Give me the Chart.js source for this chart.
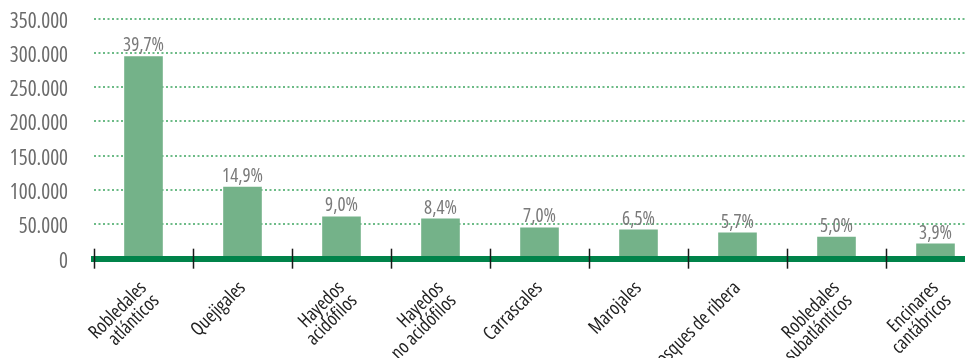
<!DOCTYPE html>
<html>
<head>
<meta charset="utf-8">
<script src="https://cdn.jsdelivr.net/npm/chart.js@4/dist/chart.umd.min.js"></script>
<style>
  html, body { margin: 0; padding: 0; background: #fff; overflow: hidden; }
  #wrap { position: relative; top: -20px; width: 985px; height: 420px; }
</style>
</head>
<body>
<div id="wrap"><canvas id="chart"></canvas></div>
<script>
const categories = [
  ['Robledales', 'atlánticos'],
  'Quejigales',
  ['Hayedos', 'acidófilos'],
  ['Hayedos', 'no acidófilos'],
  'Carrascales',
  'Marojales',
  'Bosques de ribera',
  ['Robledales', 'subatlánticos'],
  ['Encinares', 'cantábricos']
];
const hectares = [295000, 105000, 61500, 58500, 45500, 42500, 38000, 32000, 22000];
const shares = ['39,7%', '14,9%', '9,0%', '8,4%', '7,0%', '6,5%', '5,7%', '5,0%', '3,9%'];

const family = "'Open Sans', 'Roboto', sans-serif";
const barGreen = '#74b289';
const axisGreen = '#00834a';
const gridGreen = '#6dbb87';

// thousands with a dot, as in 350.000
const fmt = v => v === 0 ? '0' : v.toLocaleString('de-DE');

// percentage above each bar + black ticks crossing the thick base line
const extras = {
  id: 'extras',
  afterDraw(chart) {
    const { ctx } = chart;
    const x = chart.scales.x;
    const y0 = chart.scales.y.getPixelForValue(0);
    ctx.save();
    const step = x.getPixelForValue(1) - x.getPixelForValue(0);
    ctx.strokeStyle = '#1a1a1a';
    ctx.lineWidth = 1.5;
    for (let i = 0; i < categories.length; i++) {
      const px = Math.round(x.getPixelForValue(i) - step / 2) + 0.5;
      ctx.beginPath();
      ctx.moveTo(px, y0 - 10);
      ctx.lineTo(px, y0 + 10);
      ctx.stroke();
    }
    ctx.fillStyle = '#7a7a7a';
    ctx.font = 'normal condensed 19px ' + family;
    ctx.textAlign = 'center';
    ctx.textBaseline = 'alphabetic';
    chart.getDatasetMeta(0).data.forEach((bar, i) => {
      ctx.fillText(shares[i], bar.x, bar.y - 5);
    });
    ctx.restore();
  }
};

new Chart(document.getElementById('chart'), {
  type: 'bar',
  data: {
    labels: categories,
    datasets: [{
      data: hectares,
      backgroundColor: barGreen,
      borderWidth: 0,
      barPercentage: 0.78,
      categoryPercentage: 0.5
    }]
  },
  options: {
    responsive: true,
    maintainAspectRatio: false,
    animation: false,
    layout: { padding: { top: 10, right: 0, left: 0, bottom: 0 } },
    plugins: { legend: { display: false }, tooltip: { enabled: false } },
    scales: {
      x: {
        grid: { display: false },
        border: { color: axisGreen, width: 6, z: 1 },
        ticks: {
          color: '#222',
          font: { family, size: 19, weight: 'condensed', lineHeight: 0.95 },
          minRotation: 45,
          maxRotation: 45,
          padding: 12,
          autoSkip: false
        }
      },
      y: {
        min: 0,
        max: 350000,
        afterFit(scale) { scale.width = 94; },
        grid: { color: gridGreen, lineWidth: 2, drawTicks: false },
        border: { display: false, dash: [2, 2.5] },
        ticks: {
          stepSize: 50000,
          autoSkip: false,
          padding: 26,
          labelOffset: 3,
          color: '#6b6b6b',
          font: { family, size: 21, weight: 'condensed' },
          callback: v => fmt(v)
        }
      }
    }
  },
  plugins: [extras]
});
</script>
</body>
</html>
